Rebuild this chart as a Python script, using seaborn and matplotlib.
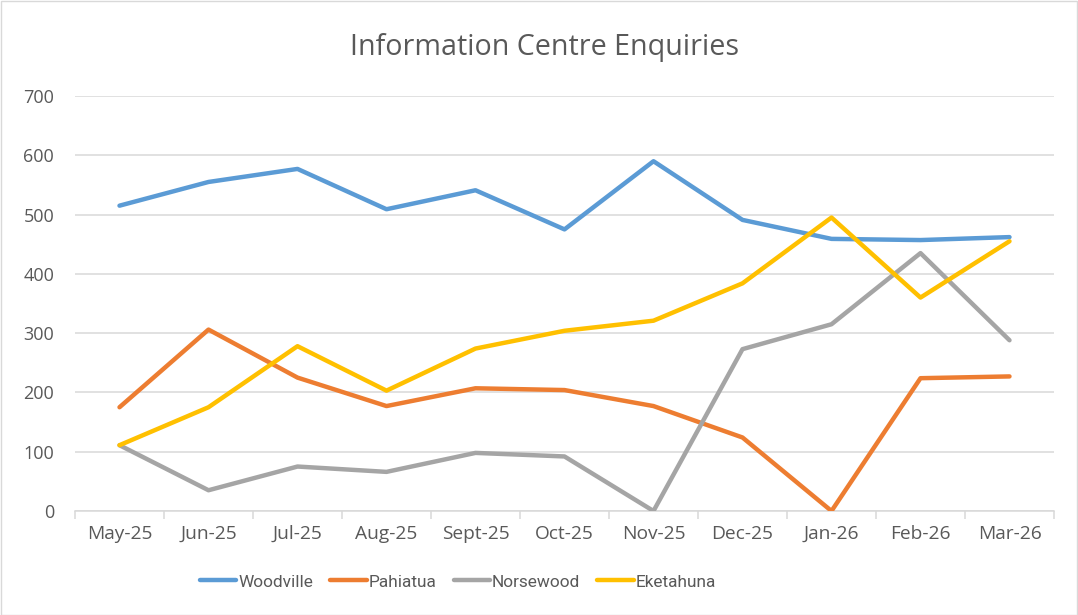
import matplotlib
matplotlib.use("Agg")
import matplotlib.pyplot as plt
import seaborn as sns
import pandas as pd
from matplotlib.patches import Rectangle
from matplotlib.ticker import FixedLocator, NullFormatter

months = ["May-25", "Jun-25", "Jul-25", "Aug-25", "Sept-25", "Oct-25",
          "Nov-25", "Dec-25", "Jan-26", "Feb-26", "Mar-26"]
woodville = [515, 555, 577, 509, 541, 475, 590, 491, 459, 457, 462]
pahiatua = [175, 306, 225, 177, 207, 204, 177, 124, 0, 224, 227]
norsewood = [111, 35, 75, 66, 98, 92, 0, 273, 315, 435, 288]
eketahuna = [111, 175, 278, 203, 274, 304, 321, 384, 495, 360, 455]

towns = ["Woodville", "Pahiatua", "Norsewood", "Eketahuna"]
colors = ["#5B9BD5", "#ED7D31", "#A5A5A5", "#FFC000"]

df = pd.DataFrame({"Month": months, "Woodville": woodville, "Pahiatua": pahiatua,
                   "Norsewood": norsewood, "Eketahuna": eketahuna})
long = df.melt(id_vars="Month", var_name="Town", value_name="Enquiries")
long["pos"] = long["Month"].map({m: i for i, m in enumerate(months)})

sns.set_theme(style="white")
plt.rcParams["font.family"] = ["Open Sans", "DejaVu Sans"]

fig = plt.figure(figsize=(10.78, 6.15), dpi=100)
ax = fig.add_axes([75 / 1078, 1 - 511 / 615, (1054 - 75) / 1078, (511 - 96) / 615])

sns.lineplot(data=long, x="pos", y="Enquiries", hue="Town", hue_order=towns,
             palette=colors, linewidth=3.2, ax=ax, legend=False,
             solid_capstyle="round", solid_joinstyle="round", zorder=3)

ax.set_xlim(-0.5, len(months) - 0.5)
ax.set_ylim(0, 700)
ax.set_yticks(range(0, 701, 100))
ax.yaxis.grid(True, color="#D9D9D9", linewidth=1.1)
ax.set_axisbelow(True)
for s in ["left", "right", "top"]:
    ax.spines[s].set_visible(False)
ax.spines["bottom"].set_color("#D9D9D9")
ax.spines["bottom"].set_linewidth(1.1)

ax.set_xticks(range(len(months)))
ax.set_xticklabels(months)
ax.xaxis.set_minor_locator(FixedLocator([i - 0.5 for i in range(len(months) + 1)]))
ax.xaxis.set_minor_formatter(NullFormatter())
ax.tick_params(axis="x", which="major", length=0, pad=10, labelsize=13.8, labelcolor="#595959")
ax.tick_params(axis="x", which="minor", length=6, width=1.1, color="#D9D9D9", bottom=True)
ax.tick_params(axis="y", length=0, pad=15, labelsize=13, labelcolor="#595959")
ax.set_xlabel("")
ax.set_ylabel("")

fig.text(544 / 1078, 1 - 47 / 615, "Information Centre Enquiries", ha="center", va="center",
         fontsize=20.6, color="#595959")

handles = [plt.Line2D([], [], color=c, linewidth=3.2, solid_capstyle="round") for c in colors]
fig.legend(handles, towns, loc="center", bbox_to_anchor=(458 / 1078, 1 - 582 / 615), ncol=4,
           frameon=False, prop={"family": "Roboto", "size": 12.4},
           labelcolor="#595959", handlelength=2.1, handletextpad=0.12, columnspacing=1.0)

fig.patches.append(Rectangle((0.5 / 1078, 0.5 / 615), 1 - 1.5 / 1078, 1 - 1.5 / 615,
                             transform=fig.transFigure, fill=False,
                             edgecolor="#D9D9D9", linewidth=1))

fig.savefig("out.png", dpi=100, facecolor="white")
